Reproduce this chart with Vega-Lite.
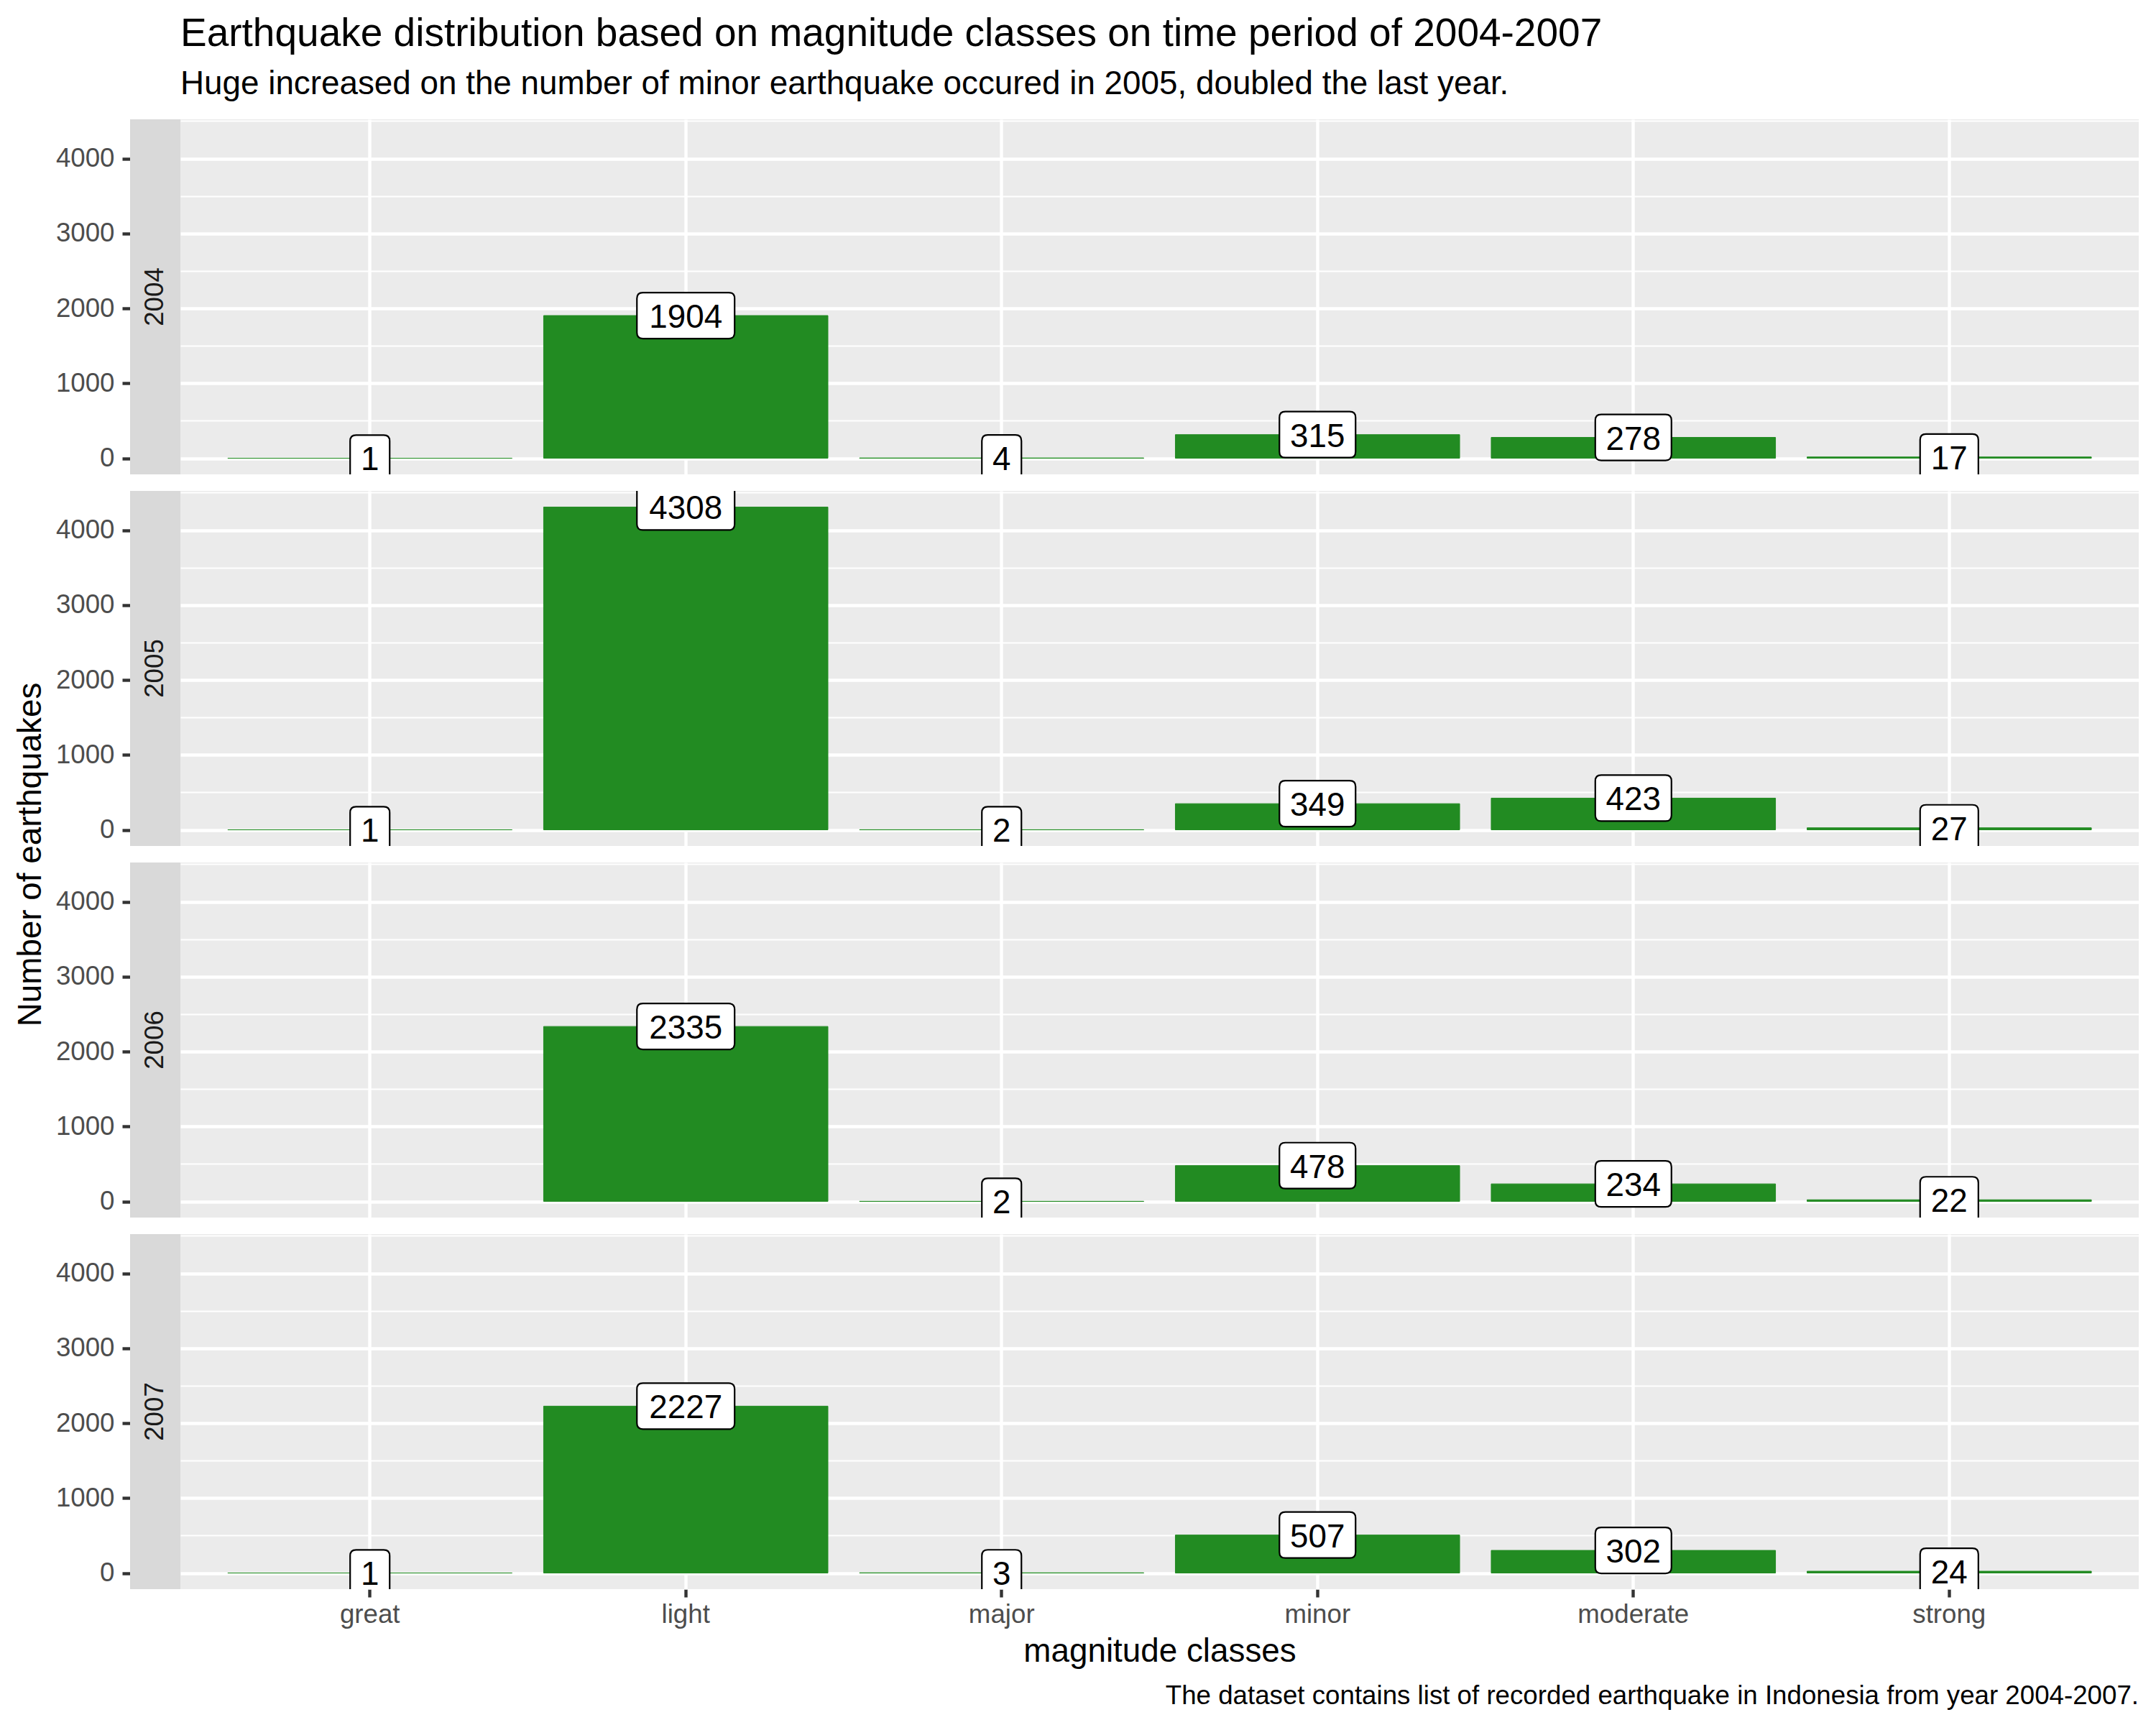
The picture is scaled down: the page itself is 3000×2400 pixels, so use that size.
{
  "$schema": "https://vega.github.io/schema/vega-lite/v6.json",
  "background": "white",
  "padding": {"left": 20, "right": 23, "top": 20, "bottom": 15},
  "title": {
    "text": "Earthquake distribution based on magnitude classes on time period of 2004-2007",
    "subtitle": "Huge increased on the number of minor earthquake occured in 2005, doubled the last year.",
    "anchor": "start",
    "frame": "group",
    "dx": 70,
    "fontSize": 55,
    "fontWeight": "normal",
    "color": "black",
    "subtitleFontSize": 45.8,
    "subtitleColor": "black",
    "subtitlePadding": 19,
    "offset": 25
  },
  "datasets": {
    "quakes": [
      {"year": "2004", "magnitude": "great", "count": 1},
      {"year": "2004", "magnitude": "light", "count": 1904},
      {"year": "2004", "magnitude": "major", "count": 4},
      {"year": "2004", "magnitude": "minor", "count": 315},
      {"year": "2004", "magnitude": "moderate", "count": 278},
      {"year": "2004", "magnitude": "strong", "count": 17},
      {"year": "2005", "magnitude": "great", "count": 1},
      {"year": "2005", "magnitude": "light", "count": 4308},
      {"year": "2005", "magnitude": "major", "count": 2},
      {"year": "2005", "magnitude": "minor", "count": 349},
      {"year": "2005", "magnitude": "moderate", "count": 423},
      {"year": "2005", "magnitude": "strong", "count": 27},
      {"year": "2006", "magnitude": "light", "count": 2335},
      {"year": "2006", "magnitude": "major", "count": 2},
      {"year": "2006", "magnitude": "minor", "count": 478},
      {"year": "2006", "magnitude": "moderate", "count": 234},
      {"year": "2006", "magnitude": "strong", "count": 22},
      {"year": "2007", "magnitude": "great", "count": 1},
      {"year": "2007", "magnitude": "light", "count": 2227},
      {"year": "2007", "magnitude": "major", "count": 3},
      {"year": "2007", "magnitude": "minor", "count": 507},
      {"year": "2007", "magnitude": "moderate", "count": 302},
      {"year": "2007", "magnitude": "strong", "count": 24}
    ],
    "years": [
      {"year": "2004"},
      {"year": "2005"},
      {"year": "2006"},
      {"year": "2007"}
    ]
  },
  "spacing": 0,
  "hconcat": [
    {
      "data": {"name": "years"},
      "facet": {
        "row": {
          "field": "year",
          "type": "nominal",
          "title": "Number of earthquakes",
          "header": {"labels": false, "labelPadding": 0, "titleFontSize": 45.8, "titleFontWeight": "normal", "titleColor": "black", "titlePadding": 0}
        }
      },
      "spacing": 23,
      "spec": {
        "width": 70,
        "height": 494,
        "view": {"fill": "#D9D9D9", "stroke": null},
        "mark": {"type": "text", "angle": 270, "fontSize": 36.7, "color": "#1A1A1A", "align": "center", "baseline": "middle"},
        "encoding": {
          "text": {"field": "year"},
          "y": {
            "datum": 2154,
            "type": "quantitative",
            "scale": {"domain": [-215.4, 4523.4], "nice": false},
            "axis": {
              "values": [0, 1000, 2000, 3000, 4000],
              "format": "d",
              "title": null,
              "grid": false,
              "domain": false,
              "tickColor": "#333333",
              "tickSize": 11,
              "tickWidth": 4.4,
              "labelFontSize": 36.7,
              "labelColor": "#4D4D4D",
              "labelPadding": 11
            }
          }
        }
      }
    },
    {
      "data": {"name": "quakes"},
      "facet": {"row": {"field": "year", "type": "nominal", "header": {"labels": false, "title": null}}},
      "spacing": 23,
      "title": {
        "text": "The dataset contains list of recorded earthquake in Indonesia from year 2004-2007.",
        "orient": "bottom",
        "anchor": "end",
        "fontSize": 36.7,
        "fontWeight": "normal",
        "color": "black",
        "offset": 21
      },
      "spec": {
        "width": 2725,
        "height": 494,
        "view": {"fill": "#EBEBEB", "stroke": null},
        "resolve": {"axis": {"y": "independent"}},
        "layer": [
          {
            "mark": {"type": "bar", "color": "#228B22", "stroke": "#228B22", "strokeWidth": 1},
            "encoding": {
              "x": {
                "field": "magnitude",
                "type": "nominal",
                "title": "magnitude classes",
                "scale": {"domain": ["great", "light", "major", "minor", "moderate", "strong"], "paddingInner": 0.1, "paddingOuter": 0.15}
              },
              "y": {
                "field": "count",
                "type": "quantitative",
                "scale": {"domain": [-215.4, 4523.4], "nice": false},
                "axis": {"values": [0, 1000, 2000, 3000, 4000], "grid": true, "gridColor": "white", "gridWidth": 4.4, "labels": false, "ticks": false, "domain": false, "title": null}
              }
            }
          },
          {
            "mark": {"type": "point", "shape": "M-0.853,-0.457L0.853,-0.457Q0.971,-0.457 0.971,-0.339L0.971,0.339Q0.971,0.457 0.853,0.457L-0.853,0.457Q-0.971,0.457 -0.971,0.339L-0.971,-0.339Q-0.971,-0.457 -0.853,-0.457Z", "size": 19600, "filled": true, "fill": "white", "stroke": "black", "strokeWidth": 2.2, "opacity": 1, "clip": true},
            "transform": [{"filter": {"field": "count", "gte": 1000}}],
            "encoding": {
              "x": {"field": "magnitude", "type": "nominal", "title": "magnitude classes"},
              "y": {"field": "count", "type": "quantitative", "axis": null}
            }
          },
          {
            "mark": {"type": "point", "shape": "M-0.639,-0.457L0.639,-0.457Q0.757,-0.457 0.757,-0.339L0.757,0.339Q0.757,0.457 0.639,0.457L-0.639,0.457Q-0.757,0.457 -0.757,0.339L-0.757,-0.339Q-0.757,-0.457 -0.639,-0.457Z", "size": 19600, "filled": true, "fill": "white", "stroke": "black", "strokeWidth": 2.2, "opacity": 1, "clip": true},
            "transform": [{"filter": {"field": "count", "range": [100, 999]}}],
            "encoding": {
              "x": {"field": "magnitude", "type": "nominal", "title": "magnitude classes"},
              "y": {"field": "count", "type": "quantitative", "axis": null}
            }
          },
          {
            "mark": {"type": "point", "shape": "M-0.461,-0.457L0.461,-0.457Q0.579,-0.457 0.579,-0.339L0.579,0.339Q0.579,0.457 0.461,0.457L-0.461,0.457Q-0.579,0.457 -0.579,0.339L-0.579,-0.339Q-0.579,-0.457 -0.461,-0.457Z", "size": 19600, "filled": true, "fill": "white", "stroke": "black", "strokeWidth": 2.2, "opacity": 1, "clip": true},
            "transform": [{"filter": {"field": "count", "range": [10, 99]}}],
            "encoding": {
              "x": {"field": "magnitude", "type": "nominal", "title": "magnitude classes"},
              "y": {"field": "count", "type": "quantitative", "axis": null}
            }
          },
          {
            "mark": {"type": "point", "shape": "M-0.275,-0.457L0.275,-0.457Q0.393,-0.457 0.393,-0.339L0.393,0.339Q0.393,0.457 0.275,0.457L-0.275,0.457Q-0.393,0.457 -0.393,0.339L-0.393,-0.339Q-0.393,-0.457 -0.275,-0.457Z", "size": 19600, "filled": true, "fill": "white", "stroke": "black", "strokeWidth": 2.2, "opacity": 1, "clip": true},
            "transform": [{"filter": {"field": "count", "lt": 10}}],
            "encoding": {
              "x": {"field": "magnitude", "type": "nominal", "title": "magnitude classes"},
              "y": {"field": "count", "type": "quantitative", "axis": null}
            }
          },
          {
            "mark": {"type": "text", "fontSize": 45.8, "color": "black", "baseline": "middle", "align": "center", "dy": 3, "clip": true},
            "encoding": {
              "x": {"field": "magnitude", "type": "nominal", "title": "magnitude classes"},
              "y": {
                "field": "count",
                "type": "quantitative",
                "axis": {"values": [500, 1500, 2500, 3500, 4500], "grid": true, "gridColor": "white", "gridWidth": 2.2, "labels": false, "ticks": false, "domain": false, "title": null}
              },
              "text": {"field": "count", "type": "quantitative", "format": "d"}
            }
          }
        ]
      }
    }
  ],
  "config": {
    "font": "Liberation Sans",
    "view": {"stroke": null},
    "axisX": {
      "labelAngle": 0,
      "bandPosition": 0.5,
      "grid": true,
      "gridColor": "white",
      "gridWidth": 4.4,
      "domain": false,
      "tickColor": "#333333",
      "tickSize": 11,
      "tickWidth": 4.4,
      "labelFontSize": 36.7,
      "labelColor": "#4D4D4D",
      "labelPadding": 6,
      "titleFontSize": 45.8,
      "titleFontWeight": "normal",
      "titleColor": "black",
      "titlePadding": 11
    }
  }
}
